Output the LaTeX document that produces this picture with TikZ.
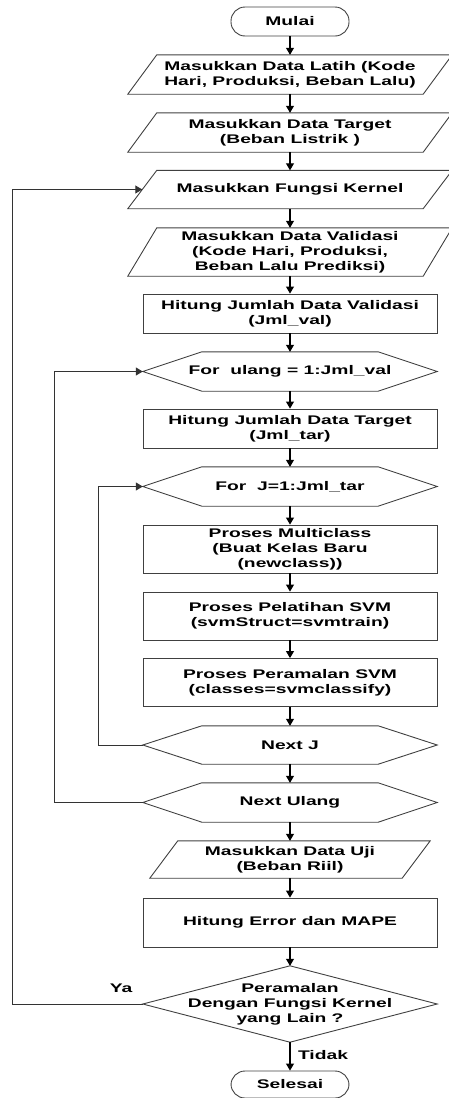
\documentclass[tikz,border=0pt]{standalone}
\usepackage{fontspec}
\setmainfont{Liberation Sans}[FakeStretch=1.54]
\usetikzlibrary{arrows.meta,calc}
\newcommand\myparout[2]{\draw[shapeline] (#1.south west) -- ($(#1.north west)+(#2,0)$) -- (#1.north east) -- ($(#1.south east)-(#2,0)$) -- cycle;}
\newcommand\myhexout[1]{\draw[shapeline] (#1.west) -- ($(#1.north west)+(59,0)$) -- ($(#1.north east)-(59,0)$) -- (#1.east) -- ($(#1.south east)-(59,0)$) -- ($(#1.south west)+(59,0)$) -- cycle;}
\begin{document}
\begin{tikzpicture}[x=1pt,y=-1pt,
  shapeline/.style={draw=black!75, line width=0.9pt},
  txt/.style={inner sep=0pt, align=center, font=\bfseries\fontsize{12.5}{15}\selectfont},
  box/.style={txt, minimum width=294pt},
  rectbox/.style={box, shapeline},
  parbox/.style={txt, minimum width=324pt},
  term/.style={txt, shapeline, minimum width=118pt, rounded corners=14pt},
  arr/.style={draw=black, line width=1.1pt, -{Triangle[length=7pt,width=8pt]}},
  loopline/.style={draw=black!80, line width=1pt, -{Triangle[length=7pt,width=8pt]}},
  lbl/.style={txt}]
\useasboundingbox (0,0) rectangle (449,1098);

\node[term, minimum height=29pt] (mulai) at (290,21.5) {Mulai};
\node[parbox, minimum height=39pt] (latih) at (290,74.5) {Masukkan Data Latih (Kode\\Hari, Produksi, Beban Lalu)};
\node[parbox, minimum height=39pt] (target) at (290,132.5) {Masukkan Data Target\\(Beban Listrik )};
\node[parbox, minimum height=38pt] (kernel) at (290,189.5) {Masukkan Fungsi Kernel};
\node[parbox, minimum height=48pt] (valid) at (290,252) {Masukkan Data Validasi\\(Kode Hari, Produksi,\\Beban Lalu Prediksi)};
\node[rectbox, minimum height=39pt] (hval) at (290,313.5) {Hitung Jumlah Data Validasi\\(Jml\_val)};
\node[box, minimum height=39pt] (forU) at (290,371.5) {For\ \ ulang = 1:Jml\_val};
\node[rectbox, minimum height=39pt] (htar) at (290,428.5) {Hitung Jumlah Data Target\\(Jml\_tar)};
\node[box, minimum height=39pt] (forJ) at (290,486.5) {For\ \ J=1:Jml\_tar};
\node[rectbox, minimum height=48pt] (multi) at (290,549) {Proses Multiclass\\(Buat Kelas Baru\\(newclass))};
\node[rectbox, minimum height=48pt] (train) at (290,616) {Proses Pelatihan SVM\\(svmStruct=svmtrain)};
\node[rectbox, minimum height=48pt] (ramal) at (290,682.5) {Proses Peramalan SVM\\(classes=svmclassify)};
\node[box, minimum height=38pt] (nextJ) at (290,745) {Next J};
\node[box, minimum height=39pt] (nextU) at (290,802.5) {Next Ulang};
\node[txt, minimum width=280pt, minimum height=37pt] (uji) at (290,859.5) {Masukkan Data Uji\\(Beban Riil)};
\node[rectbox, minimum height=49pt] (error) at (290,922.5) {Hitung Error dan MAPE};
\node[box, minimum height=76pt] (dia) at (290,1004) {Peramalan\\Dengan Fungsi Kernel\\yang Lain ?};
\node[term, minimum height=27pt] (selesai) at (290,1084.5) {Selesai};

\myparout{latih}{29}
\myparout{target}{29}
\myparout{kernel}{29}
\myparout{valid}{29}
\myparout{uji}{28}
\myhexout{forU}
\myhexout{forJ}
\myhexout{nextJ}
\myhexout{nextU}
\draw[shapeline] (dia.north) -- (dia.east) -- (dia.south) -- (dia.west) -- cycle;

\draw[arr] (mulai.south) -- (latih.north);
\draw[arr] (latih.south) -- (target.north);
\draw[arr] (target.south) -- (kernel.north);
\draw[arr] (kernel.south) -- (valid.north);
\draw[arr] (valid.south) -- (hval.north);
\draw[arr] (hval.south) -- (forU.north);
\draw[arr] (forU.south) -- (htar.north);
\draw[arr] (htar.south) -- (forJ.north);
\draw[arr] (forJ.south) -- (multi.north);
\draw[arr] (multi.south) -- (train.north);
\draw[arr] (train.south) -- (ramal.north);
\draw[arr] (ramal.south) -- (nextJ.north);
\draw[arr] (nextJ.south) -- (nextU.north);
\draw[arr] (nextU.south) -- (uji.north);
\draw[arr] (uji.south) -- (error.north);
\draw[arr] (error.south) -- (dia.north);
\draw[arr] (dia.south) -- (selesai.north);

\draw[loopline] (nextJ.west) -- ++(-44,0) |- (forJ.west);
\draw[loopline] (nextU.west) -- ++(-88,0) |- (forU.west);
\draw[loopline] (dia.west) -- ++(-130,0) |- ($(kernel.west)+(14.5,0)$);

\node[lbl] (ya) at (121,988) {Ya};
\node[lbl] (tidak) at (323,1055) {Tidak};
\end{tikzpicture}
\end{document}
